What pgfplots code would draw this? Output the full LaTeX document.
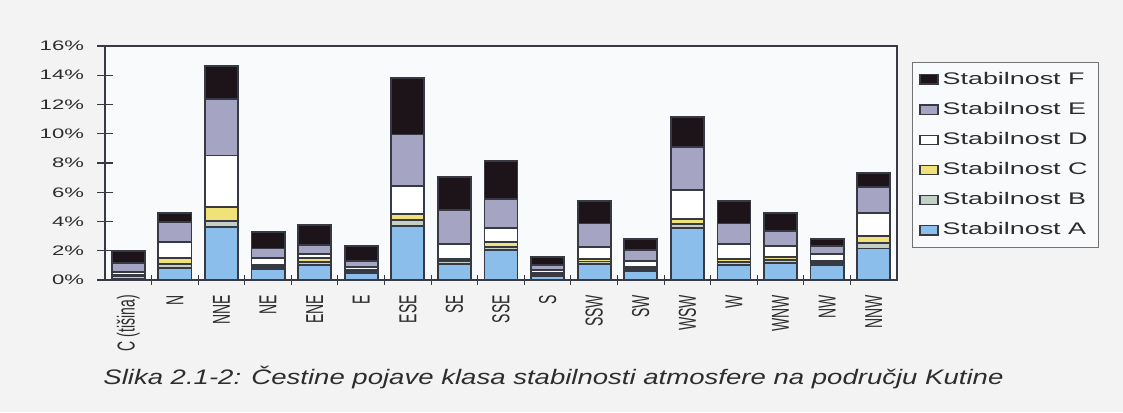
\documentclass[border=0pt]{standalone}
\usepackage{pgfplots}
\pgfplotsset{compat=1.18}
\usepackage{pgfplotstable}
\usepackage{graphicx}
\usepackage{fontspec}
\setmainfont{Liberation Sans}
\newfontfamily\wide{Liberation Sans}[FakeStretch=1.6]
\newcommand\vs[1]{\scalebox{1}[1.75]{#1}}
\definecolor{bg}{RGB}{243,243,243}
\definecolor{plotbg}{RGB}{249,250,252}
\definecolor{cA}{RGB}{140,190,235}
\definecolor{cB}{RGB}{196,208,198}
\definecolor{cC}{RGB}{240,226,120}
\definecolor{cD}{RGB}{255,255,255}
\definecolor{cE}{RGB}{165,165,195}
\definecolor{cF}{RGB}{28,20,24}
\definecolor{edge}{RGB}{55,57,67}
\definecolor{txt}{RGB}{45,45,45}

\pgfplotstableread{
x A B C D E F
0 0.10 0.20 0.05 0.17 0.62 0.84
1 0.84 0.23 0.43 1.10 1.34 0.66
2 3.65 0.41 0.95 3.50 3.85 2.25
3 0.75 0.15 0.13 0.45 0.68 1.12
4 1.03 0.22 0.28 0.25 0.59 1.41
5 0.50 0.08 0.10 0.23 0.41 1.00
6 3.69 0.41 0.44 1.91 3.50 3.84
7 1.10 0.20 0.16 0.98 2.33 2.27
8 2.05 0.18 0.35 0.98 1.96 2.64
9 0.30 0.10 0.06 0.22 0.35 0.52
10 1.10 0.17 0.14 0.87 1.59 1.55
11 0.64 0.12 0.15 0.39 0.75 0.73
12 3.53 0.30 0.32 2.00 2.95 2.05
13 1.03 0.20 0.23 1.00 1.40 1.55
14 1.14 0.23 0.23 0.72 1.05 1.19
15 1.03 0.12 0.13 0.50 0.54 0.51
16 2.16 0.35 0.52 1.57 1.74 0.95
}\data

\begin{document}
\begin{tikzpicture}[x=1pt,y=1pt]
\path[use as bounding box] (0,0) rectangle (561.5,206);
\fill[bg] (0,0) rectangle (561.5,206);
\begin{axis}[
  at={(52.5pt,66pt)}, anchor=south west, scale only axis,
  width=396pt, height=117pt,
  ybar stacked, bar width=0.71,
  xmin=-0.5, xmax=16.5, ymin=0, ymax=16,
  axis background/.style={fill=plotbg},
  axis line style={draw=edge, line width=0.85pt},
  ytick={0,2,...,16},
  yticklabel={\pgfmathprintnumber{\tick}\%},
  /pgf/number format/assume math mode=true,
  yticklabel style={font=\wide\fontsize{6.9}{7}\selectfont, text=txt, xshift=-3pt},
  xtick={0,...,16},
  xticklabels={{\vs{C (tišina)}},{\vs{N}},{\vs{NNE}},{\vs{NE}},{\vs{ENE}},{\vs{E}},{\vs{ESE}},{\vs{SE}},{\vs{SSE}},{\vs{S}},{\vs{SSW}},{\vs{SW}},{\vs{WSW}},{\vs{W}},{\vs{WNW}},{\vs{NW}},{\vs{NNW}}},
  xticklabel style={rotate=90, anchor=east, font=\fontsize{7}{8}\selectfont, text=txt},
  tick pos=left,
  tick align=center,
  major tick length=8pt,
  major x tick style={draw=none},
  minor x tick num=1,
  minor tick length=5pt,
  minor x tick style={draw=edge, line width=0.5pt},
  major y tick style={draw=edge, line width=0.6pt},
  every axis plot/.append style={draw=edge, line width=0.9pt},
  legend image code/.code={\draw[#1, line width=0.6pt] (0pt,-2.3pt) rectangle (9pt,2.3pt);},
  reverse legend,
  legend style={at={(1.019,0.932)}, anchor=north west, draw=black!55, fill=plotbg,
    font=\wide\fontsize{8.4}{9}\selectfont, text=txt, row sep=3.5pt,
    inner xsep=3.5pt, inner ysep=2.8pt},
  legend cell align=left,
]
\addplot[fill=cA] table[x=x,y=A]{\data};
\addplot[fill=cB] table[x=x,y=B]{\data};
\addplot[fill=cC] table[x=x,y=C]{\data};
\addplot[fill=cD] table[x=x,y=D]{\data};
\addplot[fill=cE] table[x=x,y=E]{\data};
\addplot[fill=cF] table[x=x,y=F]{\data};
\legend{Stabilnost A,Stabilnost B,Stabilnost C,Stabilnost D,Stabilnost E,Stabilnost F}
\end{axis}
\node[anchor=base west, inner sep=0pt, text=txt] at (51.5,13.5)
  {\resizebox{450pt}{\height}{\fontsize{10.5}{11}\selectfont\itshape Slika 2.1-2: Čestine pojave klasa stabilnosti atmosfere na području Kutine}};
\end{tikzpicture}
\end{document}
